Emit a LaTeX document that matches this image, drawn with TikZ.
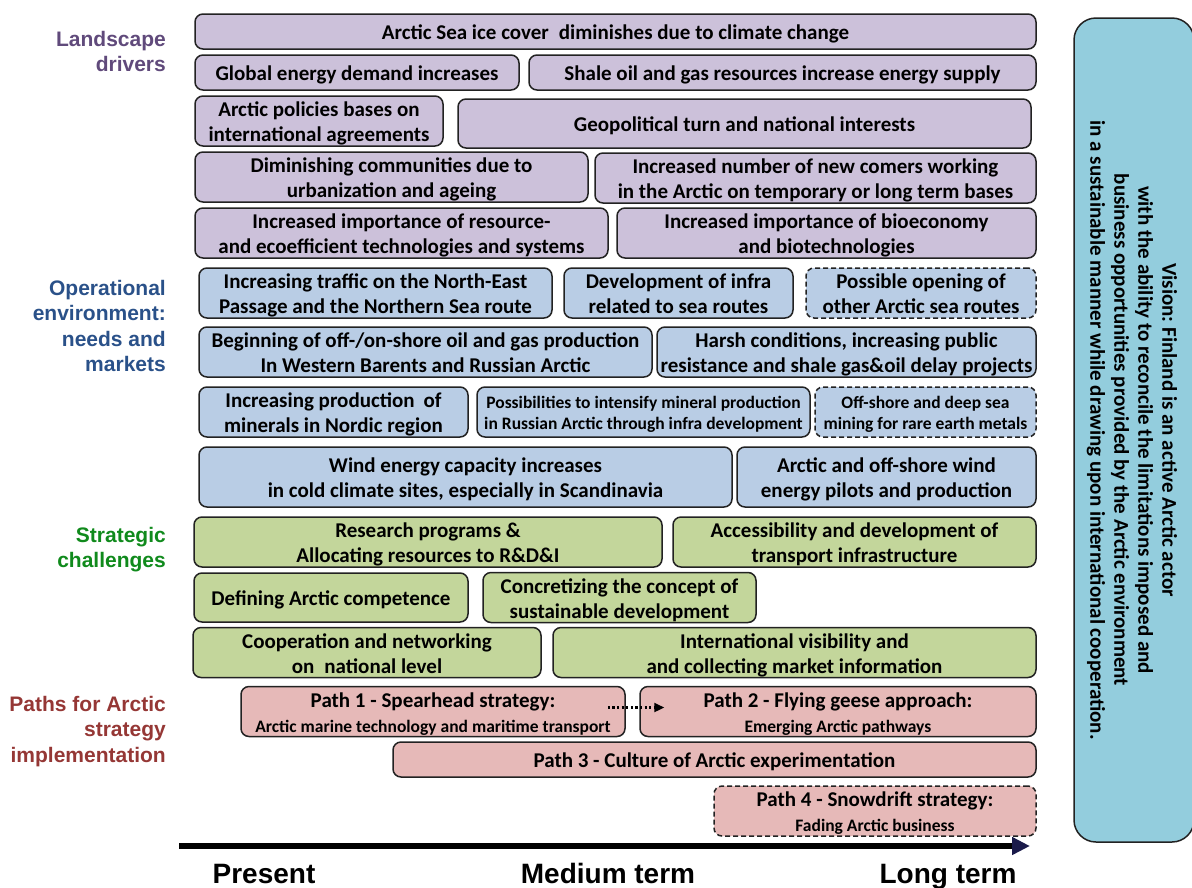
\documentclass[tikz,border=0pt]{standalone}
\usepackage{fontspec}
\setmainfont{Carlito}
\newfontfamily\arialfont{Liberation Sans}
\usetikzlibrary{arrows.meta}
\frenchspacing

\definecolor{purplefill}{HTML}{CCC1DA}
\definecolor{bluefill}{HTML}{B9CDE5}
\definecolor{greenfill}{HTML}{C3D69B}
\definecolor{pinkfill}{HTML}{E6B9B8}
\definecolor{visionfill}{HTML}{93CDDD}
\definecolor{boxline}{HTML}{222222}
\definecolor{lblpurple}{HTML}{604A7B}
\definecolor{lblblue}{HTML}{2A5189}
\definecolor{lblgreen}{HTML}{108A1C}
\definecolor{lblred}{HTML}{953735}
\definecolor{arrownavy}{HTML}{1A1A4A}

\tikzset{
  blkbase/.style={draw=boxline, line width=1.5pt, rounded corners=8pt, inner sep=0pt,
    text=black, font=\bfseries\fontsize{21}{25}\selectfont},
  drv/.style={blkbase, fill=purplefill},
  env/.style={blkbase, fill=bluefill},
  chl/.style={blkbase, fill=greenfill},
  pth/.style={blkbase, fill=pinkfill},
  maybe/.style={dashed, dash pattern=on 5pt off 3pt},
  smalltext/.style={font=\bfseries\fontsize{17.5}{21}\selectfont},
  lbl/.style={anchor=east, align=right, inner sep=0pt,
    font=\arialfont\bfseries\fontsize{21}{25.3}\selectfont},
  termlbl/.style={anchor=base, font=\arialfont\bfseries\fontsize{28}{30}\selectfont},
  timeline/.style={line width=6pt, draw=black, -{Triangle[length=18pt,width=17pt,color=arrownavy]}},
  dotarrow/.style={line width=2.2pt, dash pattern=on 2.2pt off 2.4pt,
    -{Triangle[length=10pt,width=9pt]}},
}

% \blk{style}{name}{x1}{y1}{x2}{y2}{text}
% the text is drawn 3pt below the centre of its box
\newcommand\blk[7]{%
  \node[#1, minimum width={(#5-#3)*1pt}, minimum height={(#6-#4)*1pt}]
    (#2) at ({(#3+#5)/2},{(#4+#6)/2})
    {\raisebox{-3pt}[\height][\depth]{\begin{tabular}{@{}c@{}}#7\end{tabular}}};}
\newcommand\sub[1]{{\fontsize{17.5}{21}\selectfont #1}}

\begin{document}
\begin{tikzpicture}[x=1pt, y=-1pt]
\useasboundingbox (0,0) rectangle (1192,887);

% row labels
\node[lbl, text=lblpurple] (lland) at (166,51.5) {Landscape\\drivers};
\node[lbl, text=lblblue] (loper) at (166,326) {Operational\\environment:\\needs and\\markets};
\node[lbl, text=lblgreen] (lstrat) at (166,549.5) {Strategic\\challenges};
\node[lbl, text=lblred] (lpath) at (166,731.5) {Paths for Arctic\\strategy\\implementation};

% landscape drivers
\blk{drv}{d1}{195}{14}{1036}{49}{Arctic Sea ice cover\hspace{0.25em} diminishes due to climate change}
\blk{drv}{d2}{195}{55}{519}{90}{Global energy demand increases}
\blk{drv}{d3}{529}{55}{1036}{90}{Shale oil and gas resources increase energy supply}
\blk{drv}{d4}{195}{96}{443}{146}{Arctic policies bases on\\international agreements}
\blk{drv}{d5}{458}{99}{1031}{148}{Geopolitical turn and national interests}
\blk{drv}{d6}{195}{152}{588}{202}{Diminishing communities due to\\urbanization and ageing}
\blk{drv}{d7}{595}{153}{1036}{203}{Increased number of new comers working\\in the Arctic on temporary or long term bases}
\blk{drv}{d8}{195}{208}{608}{258}{Increased importance of resource-\\and ecoefficient technologies and systems}
\blk{drv}{d9}{617}{208}{1036}{258}{Increased importance of bioeconomy\\and biotechnologies}

% operational environment
\blk{env}{e1}{199}{268}{552}{318}{Increasing traffic on the North-East\\Passage and the Northern Sea route}
\blk{env}{e2}{564}{268}{793}{318}{Development of infra\\related to sea routes}
\blk{env,maybe}{e3}{806}{268}{1036}{318}{Possible opening of\\other Arctic sea routes}
\blk{env}{e4}{199}{327}{652}{377}{Beginning of off-/on-shore oil and gas production\\In Western Barents and Russian Arctic}
\blk{env}{e5}{657}{327}{1036}{377}{Harsh conditions, increasing public\\resistance and shale gas\&oil delay projects}
\blk{env}{e6}{199}{387}{468}{437}{Increasing production\hspace{0.2em} of\\minerals in Nordic region}
\blk{env,smalltext}{e7}{477}{387}{810}{437}{Possibilities to intensify mineral production\\in Russian Arctic through infra development}
\blk{env,smalltext,maybe}{e8}{815}{387}{1036}{437}{Off-shore and deep sea\\mining for rare earth metals}
\blk{env}{e9}{199}{447}{732}{507}{Wind energy capacity increases\\in cold climate sites, especially in Scandinavia}
\blk{env}{e10}{737}{447}{1036}{507}{Arctic and off-shore wind\\energy pilots and production}

% strategic challenges
\blk{chl}{c1}{194}{517}{662}{567}{Research programs \&\\Allocating resources to R\&D\&I}
\blk{chl}{c2}{673}{517}{1036}{567}{Accessibility and development of\\transport infrastructure}
\blk{chl}{c3}{194}{573}{468}{622}{Defining Arctic competence}
\blk{chl}{c4}{483}{573}{756}{622}{Concretizing the concept of\\sustainable development}
\blk{chl}{c5}{193}{628}{541}{677}{Cooperation and networking\\on\hspace{0.25em} national level}
\blk{chl}{c6}{553}{628}{1036}{677}{International visibility and\\and collecting market information}

% implementation paths
\blk{pth}{p1}{241}{687}{625}{736}{Path 1 - Spearhead strategy:\\\sub{Arctic marine technology and maritime transport}}
\blk{pth}{p2}{640}{687}{1036}{736}{Path 2 - Flying geese approach:\\\sub{Emerging Arctic pathways}}
\blk{pth}{p3}{393}{742}{1036}{777}{Path 3 - Culture of Arctic experimentation}
\blk{pth,maybe}{p4}{714}{787}{1036}{835}{Path 4 - Snowdrift strategy:\\\sub{Fading Arctic business}}

\draw[dotarrow] ([xshift=-18pt,yshift=4pt]p1.east) -- ([xshift=25pt,yshift=4pt]p2.west);

% vision
\node[draw=boxline, line width=1.5pt, fill=visionfill, rounded corners=22pt,
      minimum width=120pt, minimum height=824pt, inner sep=0pt] (vis) at (1134,430) {};
\node[rotate=-90, align=center, font=\bfseries\fontsize{21}{24}\selectfont] (vistext) at ([xshift=-2pt]vis.center)
  {Vision: Finland is an active Arctic actor\\
   with the ability to reconcile the limitations imposed and\\
   business opportunities provided by the Arctic environment\\
   in a sustainable manner while drawing upon international cooperation.};

% time axis
\coordinate (t0) at (179,846);
\coordinate (t1) at (1030,846);
\draw[timeline] (t0) -- (t1);
\node[termlbl] (tpresent) at (264,883) {Present};
\node[termlbl] (tmedium) at (608,883) {Medium term};
\node[termlbl] (tlong) at (948,883) {Long term};
\end{tikzpicture}
\end{document}
